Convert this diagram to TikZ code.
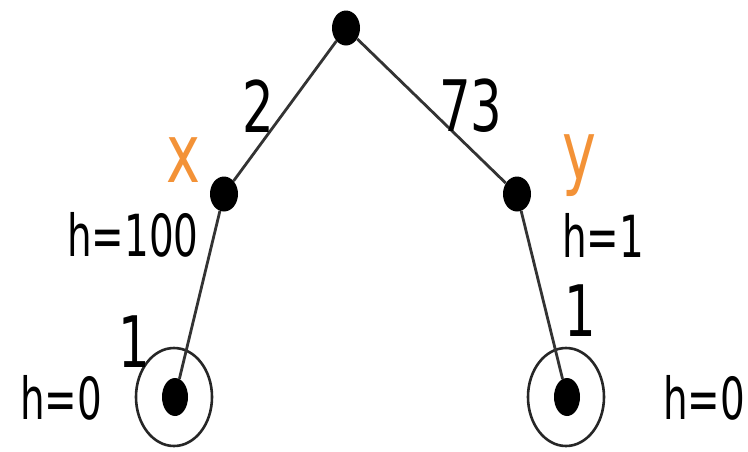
\documentclass[tikz,border=0pt]{standalone}
\usepackage{fontspec}
\usepackage{graphicx}
\setmainfont{DejaVu Sans}
\usetikzlibrary{shapes.geometric}
\definecolor{lblorange}{RGB}{243,146,55}
\newcommand{\nar}[1]{\scalebox{0.7}[1]{#1}}
\newcommand{\narh}[1]{\scalebox{0.67}[1]{#1}}
\tikzset{
  dot/.style={ellipse, fill=black, inner sep=0pt, minimum width=28pt, minimum height=35pt},
  leafdot/.style={ellipse, fill=black, inner sep=0pt, minimum width=26pt, minimum height=38pt},
  ring/.style={ellipse, draw=black!85, line width=2.6pt, inner sep=0pt, minimum width=76pt, minimum height=98pt},
  edge/.style={draw=black!80, line width=2.8pt},
  wlbl/.style={inner sep=0pt, font=\fontsize{71}{71}\selectfont, text=black},
  hlbl/.style={inner sep=0pt, font=\fontsize{58}{58}\selectfont, text=black},
  nlbl/.style={inner sep=0pt, font=\fontsize{82}{82}\selectfont, text=lblorange}
}
\begin{document}
\begin{tikzpicture}[x=1pt,y=-1pt]
\useasboundingbox (0,0) rectangle (748,451);
\node[dot] (r) at (346,28) {};
\node[dot] (x) at (224,194) {};
\node[dot] (y) at (517,194) {};
\node[ring] (lr) at (174,397) {};
\node[ring] (rr) at (566,397) {};
\node[leafdot] (l) at (175,397) {};
\node[leafdot] (rl) at (567,397) {};
\draw[edge] (r) -- (x);
\draw[edge] (r) -- (y);
\draw[edge] (x) -- (l);
\draw[edge] (y) -- (rl);
\node[wlbl] (w2) at (258,106) {\nar{2}};
\node[wlbl] (w73) at (471,106) {\nar{73}};
\node[wlbl] (w1l) at (134,342) {\nar{1}};
\node[wlbl] (w1r) at (580,311) {\nar{1}};
\node[nlbl] (nx) at (183,160) {\nar{x}};
\node[nlbl] (ny) at (579,166) {\nar{y}};
\node[hlbl] (h100) at (133,235) {\narh{h=100}};
\node[hlbl] (h1) at (603,235) {\narh{h=1}};
\node[hlbl] (h0l) at (61,398) {\narh{h=0}};
\node[hlbl] (h0r) at (704,398) {\narh{h=0}};
\end{tikzpicture}
\end{document}
